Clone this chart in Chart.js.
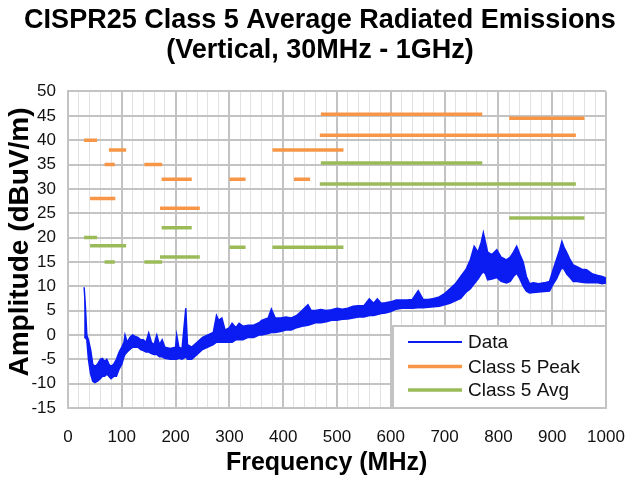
<!DOCTYPE html>
<html>
<head>
<meta charset="utf-8">
<script src="https://cdn.jsdelivr.net/npm/chart.js@4"></script>
<style>
  html, body { margin: 0; padding: 0; background: #ffffff; }
  #wrap { width: 640px; height: 481px; }
</style>
</head>
<body>
<div id="wrap"><canvas id="c" width="640" height="481"></canvas></div>
<script>
// ---- Data ----
const chartTitle = ['CISPR25 Class 5 Average Radiated Emissions', '(Vertical, 30MHz - 1GHz)'];
const xAxisTitle = 'Frequency (MHz)';
const yAxisTitle = 'Amplitude (dBuV/m)';
const seriesNames = ['Data', 'Class 5 Peak', 'Class 5 Avg'];

// measured trace, upper and lower envelope of the noisy band (MHz, dBuV/m)
const freqMHz = [30,32,35,38,42,46,50,55,60,64,68,72,76,80,85,90,95,100,104,106,110,115,120,125,130,135,140,145,150,155,160,165,170,175,180,190,200,202,206,212,219,222,230,240,250,260,270,276,280,286,292,300,305,312,318,325,335,345,355,360,372,378,385,395,405,415,425,435,446,452,460,470,480,490,500,510,520,530,540,550,560,568,575,582,590,600,610,620,630,640,651,660,670,680,690,700,710,720,730,740,748,755,762,768,772,776,780,788,797,805,815,822,828,834,840,846,852,858,865,875,885,895,902,908,914,918,922,927,933,939,946,955,964,975,985,993,1000];
const traceUpper = [9.8,6.5,0,-1,-3,-6,-6.5,-6,-5,-4.8,-5.5,-5,-6,-6.5,-6,-5,-3.5,-2.5,-1.5,0,-1.5,-0.5,0,-0.3,-0.5,-1,-1,-1.5,0.4,-1.5,-2,0,-2,-1,-2.5,-2.8,-2.5,0,-2.5,-2.8,5.5,-2,-2.5,-1.5,-0.5,0,0.5,4,3,3.5,1,1.5,2.4,1.5,2.4,1.8,2,2,2.5,3,3.5,5.3,3.5,3.5,3.7,3.5,4,5,6.2,5,5,5.2,5,5.2,5.5,5.3,5.5,5.9,6,6,7.4,6.5,7.4,6.5,6.6,6.8,7.2,7.2,7.2,7.3,9.1,7.3,7.3,7.5,7.8,8.5,9.5,10.5,12,13.5,15.5,18.2,17,19,21,19,17,16.5,17.5,16,15.4,16,17,18.2,16.5,15,12,10.5,10.7,10.5,10.7,11,13.5,15.5,17.5,19.2,18,16.9,15.5,14.4,14,13.5,13.4,12.5,12.2,12,11.7];
const traceLower = [-0.5,-0.5,-1,-5,-8,-9.5,-9.8,-9.5,-9,-8.5,-8.5,-8,-8.5,-9,-8.5,-8.5,-7,-6,-4.5,-4,-3.5,-3,-2.5,-2.5,-2.5,-3,-3.2,-3.5,-3.5,-3.8,-4,-4,-4.5,-4.5,-4.8,-5,-5,-5,-4.8,-5,-4.5,-5,-5,-4,-3,-2.5,-2,-1.5,-1.5,-1.5,-1.5,-1.5,-1.5,-1,-1,-1,-0.5,-0.5,0,0,0.3,0.5,0.5,0.7,1,1,1.5,1.8,2,2.2,2.5,2.5,2.7,3,3,3.2,3.3,3.5,3.7,3.7,4,4,4.2,4.4,4.5,4.8,5.3,5.5,5.5,5.5,5.6,5.6,5.7,5.8,5.9,6.2,6.5,7,7.5,8.8,9.5,10.5,11.5,12.5,13,12.5,11.3,11.5,11.8,11,10.7,11,12,12.7,11.5,10,9,8.6,8.7,8.8,8.9,9,10.5,11.5,13,13.8,13.5,12.5,11.8,11,11,10.8,10.7,10.7,10.7,10.5,10.7];

// Class 5 limit segments (MHz start, MHz stop, level dBuV/m)
const peakStart = [30, 41, 68, 76, 142, 174, 171, 300, 380, 420, 468, 470, 820];
const peakStop  = [54, 88, 87, 108, 175, 230, 245, 330, 512, 450, 944, 770, 960];
const peakLevel = [40, 28, 35, 38, 35, 32, 26, 32, 38, 32, 41, 45.3, 44.5];
const avgStart  = [30, 41, 68, 142, 174, 171, 300, 380, 468, 470, 820];
const avgStop   = [54, 108, 87, 175, 230, 245, 330, 512, 944, 770, 960];
const avgLevel  = [20, 18.3, 15, 15, 22, 16, 18, 18, 31, 35.3, 24];

const xTicks = {min: 0, max: 1000, major: 100, minor: 20};
const yTicks = {min: -15, max: 50, step: 5};

const colors = {data: '#0a1cf2', peak: '#f79646', avg: '#9bbb59', gridMajor: '#c3c3c3', gridMinor: '#e2e2e2', text: '#111111'};

// ---- build library datasets from the arrays ----
function segPoints(starts, stops, levels) {
  const pts = [];
  for (let i = 0; i < starts.length; i++) {
    pts.push({x: starts[i], y: levels[i]});
    pts.push({x: stops[i], y: levels[i]});
    pts.push({x: stops[i], y: null});
  }
  return pts;
}
const upperPts = freqMHz.map((f, i) => ({x: f, y: traceUpper[i]}));
const lowerPts = freqMHz.map((f, i) => ({x: f, y: traceLower[i]}));

const FONT = '"Liberation Sans", Arial, Helvetica, sans-serif';

const insideLegend = {
  id: 'insideLegend',
  afterDraw(chart) {
    const ctx = chart.ctx;
    const a = chart.chartArea;
    const x0 = 393, y0 = 326, x1 = a.right, y1 = a.bottom;
    ctx.save();
    ctx.fillStyle = '#ffffff';
    ctx.fillRect(x0, y0, x1 - x0, y1 - y0);
    ctx.strokeStyle = '#c3c3c3';
    ctx.lineWidth = 2;
    ctx.strokeRect(x0, y0, x1 - x0, y1 - y0);
    const items = [
      {label: seriesNames[0], color: colors.data, w: 2},
      {label: seriesNames[1], color: colors.peak, w: 3.5},
      {label: seriesNames[2], color: colors.avg, w: 3.5}
    ];
    const ys = [342, 366.5, 390];
    ctx.font = '19px ' + FONT;
    ctx.textBaseline = 'middle';
    ctx.textAlign = 'left';
    items.forEach((it, i) => {
      ctx.beginPath();
      ctx.strokeStyle = it.color;
      ctx.lineWidth = it.w;
      ctx.moveTo(408, ys[i]);
      ctx.lineTo(462, ys[i]);
      ctx.stroke();
      ctx.fillStyle = colors.text;
      ctx.fillText(it.label, 468, ys[i] + 1);
    });
    ctx.restore();
  }
};

new Chart(document.getElementById('c'), {
  type: 'line',
  data: {
    datasets: [
      {label: seriesNames[0], data: upperPts, borderColor: colors.data, backgroundColor: colors.data, borderWidth: 1.5, fill: '+1', pointRadius: 0, tension: 0, order: 3},
      {label: seriesNames[0] + ' (lower)', data: lowerPts, borderColor: colors.data, backgroundColor: colors.data, borderWidth: 1.5, fill: false, pointRadius: 0, tension: 0, order: 3},
      {label: seriesNames[1], data: segPoints(peakStart, peakStop, peakLevel), borderColor: colors.peak, borderWidth: 3.5, borderCapStyle: 'butt', pointRadius: 0, spanGaps: false, fill: false, order: 1},
      {label: seriesNames[2], data: segPoints(avgStart, avgStop, avgLevel), borderColor: colors.avg, borderWidth: 3.5, borderCapStyle: 'butt', pointRadius: 0, spanGaps: false, fill: false, order: 2}
    ]
  },
  options: {
    responsive: false,
    animation: false,
    parsing: true,
    layout: {padding: {left: 0, right: 0, top: 0, bottom: 0}},
    plugins: {
      legend: {display: false},
      tooltip: {enabled: false},
      title: {
        display: true,
        text: chartTitle,
        color: '#000000',
        font: {family: FONT, size: 27, weight: 'bold', lineHeight: 1.12},
        padding: {top: 5, bottom: 26}
      }
    },
    scales: {
      x: {
        type: 'linear',
        min: xTicks.min, max: xTicks.max,
        afterFit(scale) { scale.height = 73; },
        ticks: {
          stepSize: xTicks.minor,
          autoSkip: false,
          maxRotation: 0,
          padding: 3,
          color: colors.text,
          font: {family: FONT, size: 17},
          callback: (v) => (v % xTicks.major === 0 ? String(v) : '')
        },
        grid: {
          drawTicks: true,
          tickLength: 16,
          tickColor: 'rgba(0,0,0,0)',
          color: (c) => (c.tick && c.tick.value % xTicks.major === 0 ? colors.gridMajor : colors.gridMinor),
          lineWidth: (c) => (c.tick && c.tick.value % xTicks.major === 0 ? 2 : 1)
        },
        border: {display: true, color: colors.gridMajor, width: 2},
        title: {
          display: true,
          text: xAxisTitle + '   ',
          color: '#000000',
          font: {family: FONT, size: 25, weight: 'bold', lineHeight: 1.2},
          padding: {top: 0, bottom: 3}
        }
      },
      y: {
        type: 'linear',
        min: yTicks.min, max: yTicks.max,
        afterFit(scale) { scale.width = 68; },
        ticks: {
          stepSize: yTicks.step,
          padding: 12,
          color: colors.text,
          font: {family: FONT, size: 17}
        },
        grid: {drawTicks: false, color: colors.gridMajor, lineWidth: 2},
        border: {display: true, color: colors.gridMajor, width: 2},
        title: {
          display: true,
          text: '  ' + yAxisTitle,
          color: '#000000',
          font: {family: FONT, size: 28, weight: 'bold', lineHeight: 1.2},
          padding: {top: 3, bottom: 0}
        }
      },
      yRightSpace: {
        type: 'linear',
        position: 'right',
        min: yTicks.min, max: yTicks.max,
        afterFit(scale) { scale.width = 34; },
        ticks: {display: false},
        grid: {display: false, drawTicks: false},
        border: {display: false}
      }
    }
  },
  plugins: [insideLegend]
});
</script>
</body>
</html>
